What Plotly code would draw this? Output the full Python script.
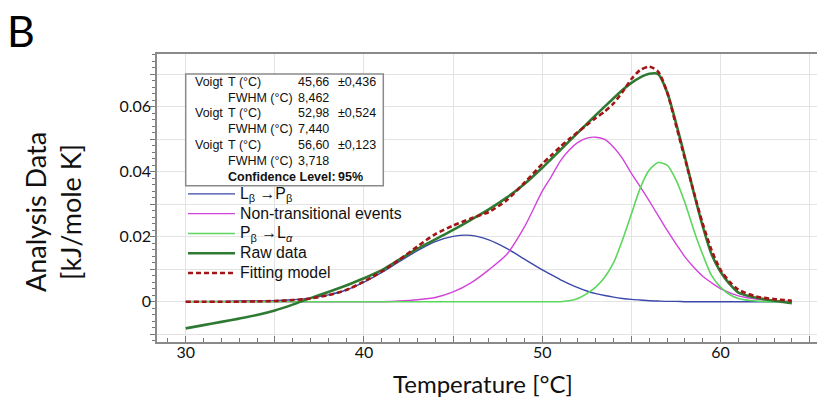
import plotly.graph_objects as go

# ---------------- data ----------------
temperature = [30, 31, 32, 33, 34, 35, 36, 37, 38, 39, 40, 41, 42, 43, 44, 45, 46, 47, 48, 49,
               50, 50.5, 51, 51.5, 52, 52.5, 53, 53.5, 54, 54.5, 55, 55.5, 56, 56.5, 57, 57.5,
               58, 58.5, 59, 59.5, 60, 60.5, 61, 62, 63, 64]

lb_to_pb = [0.0001, 0.0001, 0.0001, 0.0002, 0.0002, 0.0003, 0.0006, 0.0011, 0.0021, 0.0036,
            0.0060, 0.0090, 0.0124, 0.0157, 0.0185, 0.0201, 0.0204, 0.0190, 0.0164, 0.0131,
            0.0098, 0.0083, 0.0068, 0.0055, 0.0043, 0.0033, 0.0025, 0.0019, 0.0014, 0.0010,
            0.0007, 0.0005, 0.0003, 0.0002, 0.0001, 0.0001, 0.0000, 0.0000, 0.0000, 0.0000,
            0.0000, 0.0000, 0.0000, 0.0000, 0.0000, 0.0000]

non_transitional = [0.0, 0.0, 0.0, 0.0, 0.0, 0.0, 0.0, 0.0, 0.0, 0.0,
                    0.0, 0.0, 0.0002, 0.0006, 0.0013, 0.0030, 0.0058, 0.0098, 0.0145, 0.0230,
                    0.0340, 0.0384, 0.0432, 0.0466, 0.0490, 0.0503, 0.0506, 0.0499, 0.0475, 0.0440,
                    0.0395, 0.0353, 0.0310, 0.0265, 0.0220, 0.0178, 0.0138, 0.0106, 0.0078, 0.0058,
                    0.0040, 0.0028, 0.0018, 0.0008, 0.0003, 0.0001]

pb_to_la = [0.0, 0.0, 0.0, 0.0, 0.0, 0.0, 0.0, 0.0, 0.0, 0.0,
            0.0, 0.0, 0.0, 0.0, 0.0, 0.0, 0.0, 0.0, 0.0, 0.0,
            0.0, 0.0, 0.0, 0.0003, 0.0010, 0.0025, 0.0045, 0.0075, 0.0120, 0.0190,
            0.0270, 0.0350, 0.0405, 0.0428, 0.0420, 0.0375, 0.0305, 0.0220, 0.0145, 0.0080,
            0.0045, 0.0022, 0.0010, 0.0002, 0.0000, 0.0000]

raw_data = [-0.0082, -0.0072, -0.0062, -0.0052, -0.0041, -0.0027, -0.0009, 0.0011, 0.0030, 0.0050,
            0.0072, 0.0097, 0.0130, 0.0163, 0.0192, 0.0221, 0.0252, 0.0284, 0.0320, 0.0362,
            0.0412, 0.0439, 0.0466, 0.0493, 0.0520, 0.0547, 0.0574, 0.0600, 0.0626, 0.0651,
            0.0673, 0.0690, 0.0701, 0.0700, 0.0645, 0.0550, 0.0445, 0.0335, 0.0232, 0.0145,
            0.0092, 0.0055, 0.0028, 0.0012, 0.0003, -0.0005]

fitting_model = [0.0000, 0.0000, 0.0000, 0.0000, 0.0001, 0.0002, 0.0005, 0.0010, 0.0020, 0.0036,
                 0.0062, 0.0093, 0.0130, 0.0170, 0.0208, 0.0234, 0.0256, 0.0276, 0.0312, 0.0366,
                 0.0424, 0.0450, 0.0476, 0.0500, 0.0522, 0.0544, 0.0565, 0.0585, 0.0610, 0.0645,
                 0.0685, 0.0713, 0.0723, 0.0708, 0.0645, 0.0543, 0.0440, 0.0337, 0.0240, 0.0158,
                 0.0098, 0.0062, 0.0037, 0.0016, 0.0008, 0.0003]

series_names = ["L<sub>β</sub> →P<sub>β</sub>", "Non-transitional events",
                "P<sub>β</sub> →L<sub><i>α</i></sub>", "Raw data", "Fitting model"]

x_tick_values = [30, 35, 40, 45, 50, 55, 60, 65]
x_tick_labels = ["30", "", "40", "", "50", "", "60", ""]
y_tick_values = [-0.01, 0, 0.01, 0.02, 0.03, 0.04, 0.05, 0.06, 0.07]
y_tick_labels = ["", "0", "", "0.02", "", "0.04", "", "0.06", ""]

voigt_centres = ["45,66", "52,98", "56,60"]
voigt_errors = ["±0,436", "±0,524", "±0,123"]
voigt_fwhm = ["8,462", "7,440", "3,718"]
confidence_level = "95%"

# ---------------- layout geometry (window pixels; page body margin set to 0) ----------------
W, H = 817, 403
ML, MR, MT, MB = 157, 0, 54, 61
PW, PH = W - ML - MR, H - MT - MB


def px(x):
    return (x - ML) / PW


def py(y):
    return (H - MB - y) / PH


fig = go.Figure()

styles = [
    dict(color="#3b48a8", width=1.4),
    dict(color="#d243dc", width=1.4),
    dict(color="#5cd65c", width=1.6),
    dict(color="#2f7a33", width=2.6),
    dict(color="#a31515", width=2.6, dash="5px,3px"),
]
for name, ys, st in zip(series_names,
                        [lb_to_pb, non_transitional, pb_to_la, raw_data, fitting_model],
                        styles):
    fig.add_trace(go.Scatter(x=temperature, y=ys, mode="lines",
                             name='<span style="font-size:15.8px">' + name + "</span>",
                             line=dict(shape="spline", smoothing=0.7, **st)))

tick_font = dict(family="Lato, sans-serif", size=16, color="#111")

fig.update_layout(
    width=W, height=H,
    margin=dict(l=ML, r=MR, t=MT, b=MB, pad=0),
    paper_bgcolor="white", plot_bgcolor="white",
    showlegend=True,
    legend=dict(x=px(183), y=py(179), xanchor="left", yanchor="top",
                bgcolor="rgba(0,0,0,0)", borderwidth=0,
                font=dict(family="Liberation Sans, Arial, sans-serif", size=12.9, color="#111"),
                itemwidth=47, tracegroupgap=0),
    xaxis=dict(range=[28.39, 65.41], tickmode="array", tickvals=x_tick_values,
               ticktext=x_tick_labels, ticks="inside", ticklen=6, tickcolor="#777",
               ticklabelstandoff=-5,
               showgrid=True, gridcolor="#e3e3e3", gridwidth=1,
               showline=True, linecolor="#8a8a8a", linewidth=1.5, mirror=True,
               zeroline=False, tickfont=tick_font,
               minor=dict(dtick=1, ticks="inside", ticklen=4, tickcolor="#777", showgrid=False)),
    yaxis=dict(range=[-0.0124, 0.0762], tickmode="array", tickvals=y_tick_values,
               ticktext=y_tick_labels, ticks="outside", ticklen=5, tickcolor="#777",
               ticklabelstandoff=-4,
               showgrid=True, gridcolor="#e3e3e3", gridwidth=1,
               showline=True, linecolor="#8a8a8a", linewidth=1.5, mirror=False,
               zeroline=False, tickfont=tick_font,
               minor=dict(dtick=0.002, ticks="outside", ticklen=3, tickcolor="#777", showgrid=False)),
)

# white results box
fig.add_shape(type="rect", xref="paper", yref="paper",
              x0=px(185.7), x1=px(383.3), y0=py(185.7), y1=py(74),
              fillcolor="white", line=dict(color="#8a8a8a", width=1.5), layer="above")

box_font = dict(family="Liberation Sans, Arial, sans-serif", size=12.5, color="#111")
row_y = [81.7 + i * 15.83 for i in range(7)]


def add_text(x, y, text, font=box_font, **kw):
    fig.add_annotation(x=px(x), y=py(y), xref="paper", yref="paper", text=text,
                       showarrow=False, xanchor="left", yanchor="middle", font=font, **kw)


for i in range(3):
    add_text(193, row_y[2 * i], "Voigt")
    add_text(226, row_y[2 * i], "T (°C)")
    add_text(295.5, row_y[2 * i], voigt_centres[i])
    add_text(335.5, row_y[2 * i], voigt_errors[i])
    add_text(226, row_y[2 * i + 1], "FWHM (°C)")
    add_text(295.5, row_y[2 * i + 1], voigt_fwhm[i])
add_text(226, row_y[6], "<b>Confidence Level:</b>")
add_text(336, row_y[6], "<b>" + confidence_level + "</b>")

# axis titles
title_font = dict(family="Lato, sans-serif", size=24, color="#111")
fig.add_annotation(x=px(483), y=py(383), xref="paper", yref="paper",
                   text="Temperature [°C]", showarrow=False,
                   xanchor="center", yanchor="middle", font=title_font)
fig.add_annotation(x=px(53), y=py(212), xref="paper", yref="paper",
                   text="Analysis Data<br>[kJ/mole K]", showarrow=False, textangle=-90,
                   xanchor="center", yanchor="middle",
                   font=dict(family="Lato, sans-serif", size=27, color="#111"))

# panel letter
fig.add_annotation(x=px(20.5), y=py(30), xref="paper", yref="paper", text="B",
                   showarrow=False, xanchor="center", yanchor="middle",
                   font=dict(family="Lato, sans-serif", size=43, color="#000"))

fig.write_html("out.html", config={"displayModeBar": False},
               post_script="document.body.style.margin='0px';")
